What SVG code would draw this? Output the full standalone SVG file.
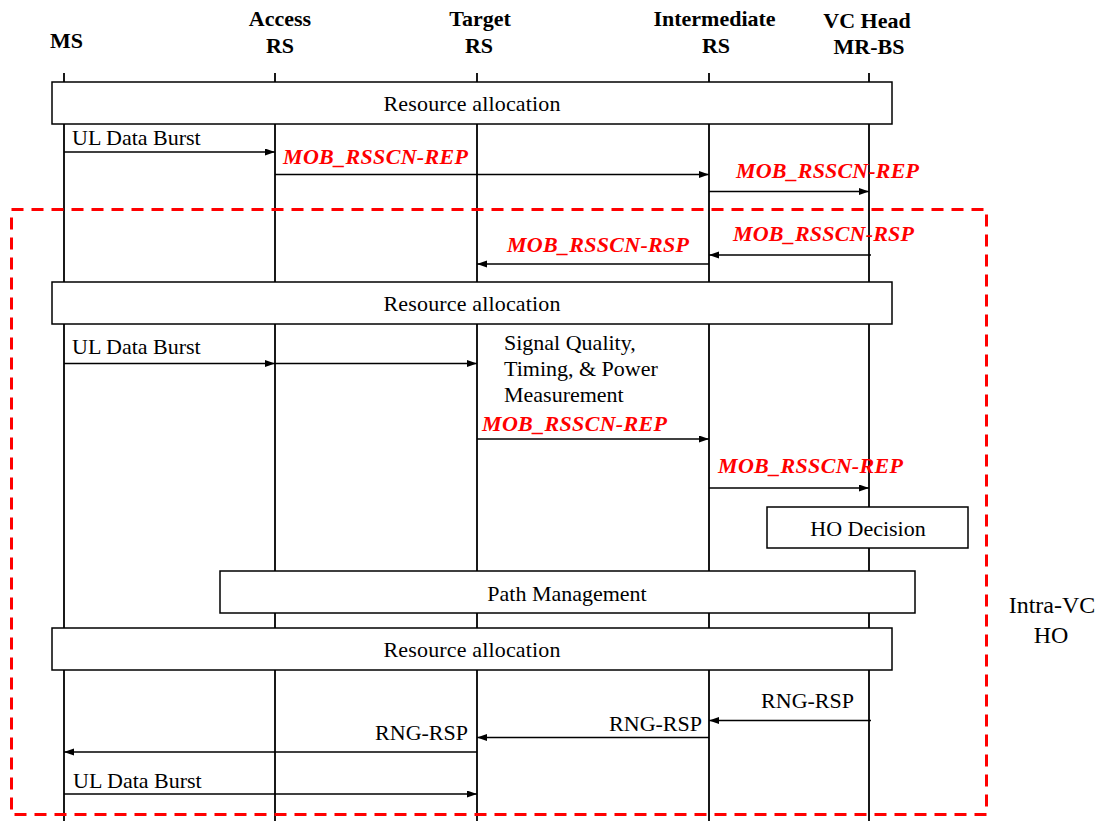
<svg xmlns="http://www.w3.org/2000/svg" width="1103" height="821" viewBox="0 0 1103 821">
<style>
.hdr{font-family:"Liberation Serif",serif;font-weight:bold;font-size:22px;fill:#000;text-anchor:middle}
.life{stroke:#000;stroke-width:1.8;fill:none}
.box{fill:#fff;stroke:#000;stroke-width:1.5}
.t{font-family:"Liberation Serif",serif;font-size:22px;fill:#000}
.c{text-anchor:middle}
.e{text-anchor:end}
.red{font-family:"Liberation Serif",serif;font-size:22px;font-weight:bold;font-style:italic;fill:#ff0000}
.msg{stroke:#000;stroke-width:1.3;fill:none;marker-end:url(#ah)}
.frame{fill:none;stroke:#ff0000;stroke-width:3;stroke-dasharray:12 8}
</style>
<defs>
<marker id="ah" markerUnits="userSpaceOnUse" markerWidth="11" markerHeight="8" refX="10" refY="3.5" orient="auto">
<path d="M0,0 L10,3.5 L0,7 z" fill="#000"/>
</marker>
</defs>
<rect width="1103" height="821" fill="#fff"/>
<g id="ms">
<text class="hdr" x="66.5" y="48">MS</text>
<line class="life" x1="64" y1="73" x2="64" y2="821"/>
</g>
<g id="access-rs">
<text class="hdr" x="280" y="26">Access</text>
<text class="hdr" x="280" y="53">RS</text>
<line class="life" x1="275" y1="73" x2="275" y2="821"/>
</g>
<g id="target-rs">
<text class="hdr" x="480" y="26">Target</text>
<text class="hdr" x="479" y="53">RS</text>
<line class="life" x1="477" y1="73" x2="477" y2="821"/>
</g>
<g id="intermediate-rs">
<text class="hdr" x="714.5" y="26">Intermediate</text>
<text class="hdr" x="716" y="53">RS</text>
<line class="life" x1="709" y1="73" x2="709" y2="821"/>
</g>
<g id="vc-head">
<text class="hdr" x="867" y="28">VC Head</text>
<text class="hdr" x="869" y="54">MR-BS</text>
<line class="life" x1="869" y1="73" x2="869" y2="821"/>
</g>
<g id="resource-allocation-1">
<rect class="box" x="52" y="82" width="840" height="42"/>
<text class="t c" x="472" y="111" textLength="177" lengthAdjust="spacing">Resource allocation</text>
</g>
<g id="resource-allocation-2">
<rect class="box" x="52" y="282" width="840" height="42"/>
<text class="t c" x="472" y="311" textLength="177" lengthAdjust="spacing">Resource allocation</text>
</g>
<g id="measurement-note">
<text class="t" x="504" y="350">Signal Quality,</text>
<text class="t" x="504" y="376">Timing, &amp; Power</text>
<text class="t" x="504" y="402">Measurement</text>
</g>
<g id="ho-decision">
<rect class="box" x="767" y="507" width="201" height="41"/>
<text class="t c" x="868" y="536">HO Decision</text>
</g>
<g id="path-management">
<rect class="box" x="220" y="571" width="695" height="42"/>
<text class="t c" x="567" y="601">Path Management</text>
</g>
<g id="resource-allocation-3">
<rect class="box" x="52" y="628" width="840" height="42"/>
<text class="t c" x="472" y="657" textLength="177" lengthAdjust="spacing">Resource allocation</text>
</g>
<g id="connectors">
<line class="msg" x1="64" y1="152" x2="275" y2="152"/>
<text class="t" x="72" y="145">UL Data Burst</text>
<line class="msg" x1="275" y1="174.5" x2="709" y2="174.5"/>
<text class="red" x="283" y="164" textLength="185" lengthAdjust="spacing">MOB_RSSCN-REP</text>
<line class="msg" x1="709" y1="191.5" x2="869" y2="191.5"/>
<text class="red" x="736" y="178" textLength="183" lengthAdjust="spacing">MOB_RSSCN-REP</text>
<line class="msg" x1="871" y1="255" x2="709" y2="255"/>
<text class="red" x="733" y="241" textLength="181" lengthAdjust="spacing">MOB_RSSCN-RSP</text>
<line class="msg" x1="709" y1="264" x2="477" y2="264"/>
<text class="red" x="507" y="252" textLength="182" lengthAdjust="spacing">MOB_RSSCN-RSP</text>
<line class="msg" x1="64" y1="363.5" x2="275" y2="363.5"/>
<line class="msg" x1="275" y1="363.5" x2="477" y2="363.5"/>
<text class="t" x="72" y="354">UL Data Burst</text>
<line class="msg" x1="477" y1="439" x2="709" y2="439"/>
<text class="red" x="482" y="431" textLength="185" lengthAdjust="spacing">MOB_RSSCN-REP</text>
<line class="msg" x1="709" y1="488" x2="869" y2="488"/>
<text class="red" x="718" y="473" textLength="185" lengthAdjust="spacing">MOB_RSSCN-REP</text>
<line class="msg" x1="871" y1="720.5" x2="709" y2="720.5"/>
<text class="t e" x="854" y="708">RNG-RSP</text>
<line class="msg" x1="709" y1="737.5" x2="477" y2="737.5"/>
<text class="t e" x="702" y="731">RNG-RSP</text>
<line class="msg" x1="477" y1="752" x2="64" y2="752"/>
<text class="t e" x="468" y="740">RNG-RSP</text>
<line class="msg" x1="64" y1="794" x2="477" y2="794"/>
<text class="t" x="73" y="788">UL Data Burst</text>
</g>
<g id="intra-vc-ho">
<rect class="frame" x="11.5" y="209.5" width="975" height="605"/>
<text class="t c" x="1052" y="613" style="font-size:24px">Intra-VC</text>
<text class="t c" x="1051" y="643" style="font-size:24px">HO</text>
</g>
</svg>
